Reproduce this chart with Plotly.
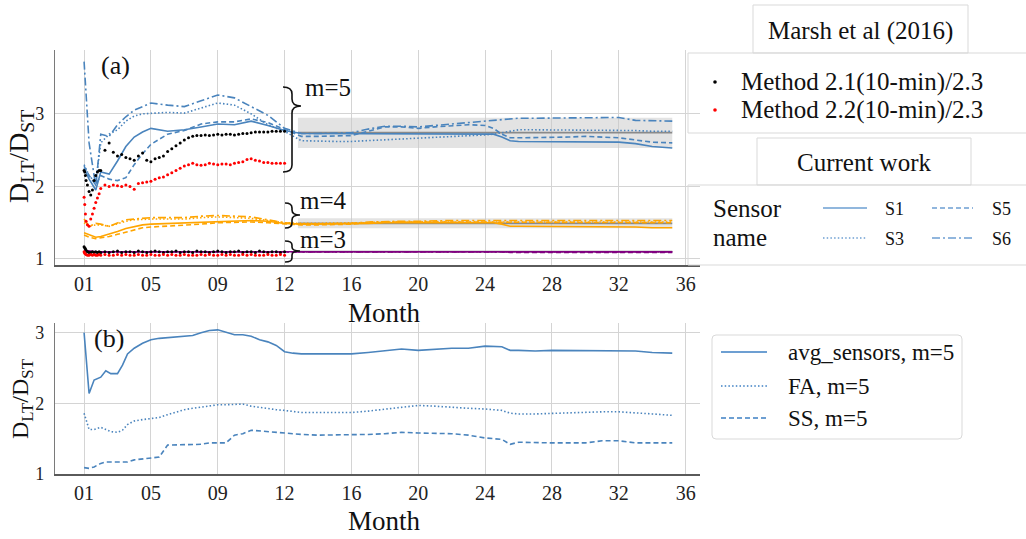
import plotly.graph_objects as go

W, H = 1026, 539
FONT = "Liberation Serif, Times New Roman, serif"

# ---------------- data ----------------
TICK_VALS = [0, 4, 8, 12, 16, 20, 24, 28, 32, 36]
TICK_TEXT = ["01", "05", "09", "12", "16", "20", "24", "28", "32", "36"]

LINE_MONTHS = [0, 0.3, 0.7, 1, 1.5, 2, 2.5, 3, 3.5, 4, 5, 6, 7, 8, 9, 10, 11, 12,
               13, 14, 15, 16, 17, 18, 19, 20, 21, 22, 23, 24, 24.5, 25, 25.5, 26,
               27, 28, 29, 30, 31, 32, 33, 34, 35.2]

# m = 5 (blue)
S1_M5 = [2.25, 2.10, 1.95, 2.20, 2.17, 2.35, 2.55, 2.68, 2.75, 2.80, 2.76, 2.78, 2.82, 2.86, 2.85,
         2.90, 2.84, 2.77, 2.73, 2.73, 2.73, 2.73, 2.73, 2.73, 2.72, 2.72, 2.73, 2.73, 2.73, 2.72,
         2.72, 2.68, 2.63, 2.62, 2.62, 2.62, 2.62, 2.61, 2.61, 2.61, 2.59, 2.55, 2.53]
S3_M5 = [2.30, 2.15, 2.05, 2.60, 2.72, 2.78, 2.90, 2.97, 3.00, 3.01, 3.02, 3.01, 3.08, 3.15, 3.12,
         3.00, 2.85, 2.76, 2.63, 2.62, 2.62, 2.62, 2.63, 2.64, 2.66, 2.67, 2.68, 2.69, 2.70, 2.71,
         2.72, 2.74, 2.77, 2.78, 2.78, 2.78, 2.78, 2.78, 2.78, 2.78, 2.77, 2.76, 2.76]
S5_M5 = [2.28, 2.15, 2.02, 2.15, 2.10, 2.08, 2.12, 2.30, 2.45, 2.58, 2.72, 2.77, 2.86, 2.89, 2.89,
         2.93, 2.88, 2.78, 2.69, 2.69, 2.69, 2.70, 2.76, 2.82, 2.82, 2.80, 2.82, 2.84, 2.85, 2.84,
         2.80, 2.72, 2.67, 2.67, 2.67, 2.68, 2.68, 2.69, 2.68, 2.67, 2.64, 2.61, 2.60]
S6_M5 = [3.72, 2.60, 2.00, 2.72, 2.69, 2.85, 2.96, 3.05, 3.10, 3.15, 3.12, 3.10, 3.18, 3.26, 3.22,
         3.10, 2.98, 2.80, 2.73, 2.73, 2.73, 2.74, 2.79, 2.83, 2.83, 2.82, 2.84, 2.86, 2.87, 2.89,
         2.90, 2.92, 2.93, 2.94, 2.94, 2.94, 2.94, 2.94, 2.95, 2.95, 2.91, 2.91, 2.90]

# m = 4 (orange)
S1_M4 = [1.36, 1.33, 1.30, 1.31, 1.34, 1.38, 1.42, 1.45, 1.47, 1.48, 1.49, 1.50, 1.51, 1.52, 1.53,
         1.53, 1.52, 1.49, 1.48, 1.48, 1.48, 1.48, 1.49, 1.50, 1.50, 1.50, 1.50, 1.50, 1.50, 1.50,
         1.50, 1.48, 1.45, 1.45, 1.45, 1.45, 1.45, 1.45, 1.45, 1.45, 1.44, 1.43, 1.43]
S3_M4 = [1.50, 1.45, 1.47, 1.47, 1.45, 1.49, 1.52, 1.54, 1.55, 1.55, 1.55, 1.55, 1.57, 1.58, 1.57,
         1.56, 1.53, 1.50, 1.49, 1.49, 1.49, 1.49, 1.50, 1.51, 1.51, 1.51, 1.51, 1.52, 1.52, 1.52,
         1.52, 1.52, 1.52, 1.52, 1.52, 1.52, 1.52, 1.52, 1.52, 1.52, 1.52, 1.51, 1.51]
S5_M4 = [1.33, 1.30, 1.28, 1.29, 1.31, 1.34, 1.37, 1.41, 1.43, 1.44, 1.45, 1.46, 1.48, 1.50, 1.51,
         1.51, 1.50, 1.48, 1.47, 1.47, 1.47, 1.48, 1.50, 1.51, 1.51, 1.51, 1.51, 1.51, 1.51, 1.51,
         1.51, 1.51, 1.51, 1.51, 1.51, 1.51, 1.51, 1.51, 1.51, 1.51, 1.51, 1.50, 1.50]
S6_M4 = [1.55, 1.45, 1.49, 1.48, 1.45, 1.50, 1.54, 1.55, 1.56, 1.57, 1.57, 1.57, 1.59, 1.60, 1.59,
         1.58, 1.54, 1.50, 1.48, 1.48, 1.48, 1.49, 1.51, 1.52, 1.52, 1.52, 1.53, 1.53, 1.53, 1.53,
         1.53, 1.53, 1.53, 1.53, 1.53, 1.53, 1.53, 1.53, 1.53, 1.53, 1.53, 1.53, 1.53]

# m = 3 (purple)
S1_M3 = [1.12, 1.11, 1.10, 1.10, 1.10, 1.10, 1.10, 1.10, 1.10, 1.10, 1.10, 1.10, 1.10, 1.10, 1.10,
         1.10, 1.10, 1.10, 1.10, 1.10, 1.10, 1.10, 1.11, 1.11, 1.11, 1.11, 1.11, 1.11, 1.11, 1.11,
         1.10, 1.10, 1.10, 1.10, 1.10, 1.10, 1.10, 1.10, 1.10, 1.10, 1.10, 1.10, 1.10]
S3_M3 = [1.11, 1.10, 1.10, 1.10, 1.10, 1.10, 1.10, 1.10, 1.10, 1.10, 1.10, 1.10, 1.10, 1.10, 1.10,
         1.10, 1.10, 1.10, 1.10, 1.10, 1.10, 1.10, 1.10, 1.11, 1.11, 1.11, 1.11, 1.11, 1.11, 1.11,
         1.11, 1.10, 1.10, 1.10, 1.10, 1.10, 1.10, 1.10, 1.10, 1.10, 1.10, 1.10, 1.10]
S5_M3 = [1.11, 1.10, 1.09, 1.09, 1.10, 1.10, 1.10, 1.10, 1.10, 1.10, 1.10, 1.10, 1.10, 1.10, 1.10,
         1.10, 1.10, 1.10, 1.10, 1.10, 1.10, 1.10, 1.10, 1.10, 1.11, 1.11, 1.11, 1.11, 1.11, 1.11,
         1.10, 1.10, 1.09, 1.09, 1.09, 1.09, 1.09, 1.09, 1.09, 1.09, 1.09, 1.09, 1.09]
S6_M3 = [1.12, 1.10, 1.10, 1.10, 1.10, 1.10, 1.10, 1.10, 1.10, 1.10, 1.10, 1.10, 1.10, 1.10, 1.10,
         1.10, 1.10, 1.10, 1.10, 1.10, 1.10, 1.11, 1.11, 1.11, 1.11, 1.11, 1.11, 1.11, 1.11, 1.11,
         1.10, 1.10, 1.10, 1.10, 1.10, 1.10, 1.10, 1.10, 1.10, 1.10, 1.10, 1.10, 1.10]

# Marsh et al (2016) dots
DOT_MONTHS = [0, 0.04, 0.08, 0.12, 0.2, 0.3, 0.4, 0.5, 0.6, 0.7, 0.8, 0.9, 1.0,
              1.25, 1.5, 1.75, 2.0, 2.25, 2.5, 2.75, 3.0, 3.25, 3.5, 3.75, 4.0, 4.25,
              4.5, 4.75, 5.0, 5.25, 5.5, 5.75, 6.0, 6.25, 6.5, 6.75, 7.0, 7.25, 7.5,
              7.75, 8.0, 8.25, 8.5, 8.75, 9.0, 9.25, 9.5, 9.75, 10.0, 10.25, 10.5,
              10.75, 11.0, 11.25, 11.5, 11.75, 12.0]
M21_M5 = [2.22, 2.20, 2.15, 2.08, 2.02, 1.93, 1.88, 1.95, 2.08, 2.15, 2.20, 2.22, 2.22,
          2.50, 2.60, 2.47, 2.42, 2.44, 2.40, 2.38, 2.36, 2.42, 2.46, 2.36, 2.34, 2.38,
          2.40, 2.42, 2.48, 2.52, 2.56, 2.60, 2.64, 2.67, 2.69, 2.70, 2.70, 2.71, 2.70,
          2.71, 2.72, 2.71, 2.72, 2.72, 2.71, 2.72, 2.73, 2.73, 2.74, 2.75, 2.75,
          2.75, 2.75, 2.76, 2.76, 2.76, 2.76]
M22_M5 = [1.85, 1.75, 1.62, 1.52, 1.47, 1.45, 1.55, 1.62, 1.70, 1.78, 1.84, 1.90, 1.97,
          2.02, 2.00, 2.02, 2.01, 2.00, 2.02, 2.00, 1.96, 2.04, 2.05, 2.06, 2.07, 2.10,
          2.12, 2.13, 2.16, 2.19, 2.22, 2.25, 2.28, 2.30, 2.32, 2.30, 2.29, 2.30, 2.32,
          2.31, 2.30, 2.31, 2.31, 2.30, 2.32, 2.33, 2.34, 2.37, 2.38, 2.36, 2.35,
          2.33, 2.33, 2.32, 2.32, 2.32, 2.32]
M21_M3 = [1.17, 1.15, 1.14, 1.12, 1.10, 1.09, 1.09, 1.10, 1.09, 1.10, 1.09, 1.10, 1.09,
          1.10, 1.09, 1.10, 1.11, 1.09, 1.10, 1.10, 1.09, 1.11, 1.10, 1.09, 1.10, 1.11,
          1.10, 1.09, 1.10, 1.10, 1.11, 1.09, 1.10, 1.10, 1.09, 1.11, 1.10, 1.10, 1.09,
          1.10, 1.11, 1.10, 1.09, 1.10, 1.10, 1.11, 1.09, 1.10, 1.10, 1.09, 1.11,
          1.10, 1.09, 1.10, 1.10, 1.09, 1.10]
M22_M3 = [1.10, 1.08, 1.07, 1.06, 1.05, 1.05, 1.06, 1.05, 1.06, 1.05, 1.05, 1.06, 1.05,
          1.06, 1.05, 1.05, 1.06, 1.05, 1.06, 1.05, 1.05, 1.06, 1.05, 1.05, 1.06, 1.05,
          1.05, 1.06, 1.05, 1.06, 1.05, 1.05, 1.06, 1.05, 1.05, 1.05, 1.06, 1.05, 1.06,
          1.05, 1.05, 1.06, 1.05, 1.06, 1.05, 1.05, 1.06, 1.05, 1.06, 1.05, 1.05,
          1.05, 1.06, 1.05, 1.05, 1.06, 1.05]

# shaded bands (min / max / mean) for months 13-35
BAND_X = [12.8, 35.2]
BAND_M5 = [2.53, 2.945, 2.74]
BAND_M4 = [1.425, 1.56, 1.49]
BAND_M3 = [1.093, 1.113, 1.10]

# panel (b)
B_MONTHS = [0, 0.3, 0.6, 1, 1.3, 1.6, 2, 2.3, 2.6, 3, 3.5, 4, 4.5, 5, 5.5, 6, 6.5, 7,
            7.5, 8, 8.5, 9, 9.5, 10, 10.5, 11, 11.5, 12, 12.5, 13, 14, 15, 16, 17, 18,
            19, 20, 21, 22, 23, 24, 25, 25.5, 26, 27, 28, 29, 30, 31, 32, 33, 34, 35.2]
AVG_SENSORS = [3.00, 2.14, 2.33, 2.37, 2.46, 2.42, 2.42, 2.54, 2.70, 2.78, 2.85, 2.90, 2.92,
               2.93, 2.93, 2.95, 2.96, 3.00, 3.03, 3.04, 3.00, 2.97, 2.97, 2.95, 2.90, 2.87,
               2.82, 2.73, 2.71, 2.70, 2.70, 2.70, 2.70, 2.72, 2.75, 2.77, 2.75, 2.77, 2.78,
               2.78, 2.81, 2.80, 2.75, 2.75, 2.74, 2.75, 2.75, 2.75, 2.75, 2.74, 2.74, 2.72, 2.71]
FA_M5 = [1.86, 1.63, 1.63, 1.66, 1.63, 1.60, 1.59, 1.62, 1.70, 1.75, 1.77, 1.79, 1.80,
         1.84, 1.88, 1.91, 1.93, 1.95, 1.96, 1.98, 1.98, 1.99, 1.99, 1.96, 1.94, 1.92,
         1.91, 1.90, 1.88, 1.87, 1.87, 1.87, 1.87, 1.89, 1.92, 1.94, 1.97, 1.96, 1.94,
         1.93, 1.92, 1.90, 1.86, 1.85, 1.85, 1.86, 1.87, 1.87, 1.88, 1.88, 1.87, 1.85, 1.83]
SS_M5 = [1.09, 1.08, 1.10, 1.15, 1.17, 1.17, 1.17, 1.17, 1.17, 1.20, 1.21, 1.22, 1.24,
         1.41, 1.41, 1.41, 1.42, 1.42, 1.44, 1.44, 1.44, 1.55, 1.57, 1.62, 1.61, 1.60,
         1.58, 1.57, 1.56, 1.56, 1.55, 1.55, 1.55, 1.56, 1.57, 1.59, 1.58, 1.58, 1.57,
         1.55, 1.51, 1.49, 1.42, 1.45, 1.44, 1.44, 1.44, 1.44, 1.47, 1.47, 1.44, 1.44, 1.44]

# ---------------- styles ----------------
BLUE = "#4a84bd"
ORANGE = "#ffa500"
PURPLE = "#800080"
DASHES = {"S1": "solid", "S3": "1.5px,2.2px", "S5": "5px,3px", "S6": "8px,3px,2px,3px"}


def px(x):
    return x / W


def py(y):
    return 1 - y / H


fig = go.Figure()

# bands
for band in (BAND_M5, BAND_M4, BAND_M3):
    lo, hi, mean = band
    fig.add_trace(go.Scatter(x=BAND_X + BAND_X[::-1], y=[hi, hi, lo, lo], fill="toself",
                             fillcolor="rgba(200,200,200,0.5)", line=dict(width=0),
                             mode="lines", showlegend=False, hoverinfo="skip",
                             xaxis="x", yaxis="y"))
    fig.add_trace(go.Scatter(x=BAND_X, y=[mean, mean], mode="lines",
                             line=dict(color="#8a8a8a", width=1.8), showlegend=False,
                             hoverinfo="skip", xaxis="x", yaxis="y"))

series = [
    ("S1", S1_M5, BLUE), ("S3", S3_M5, BLUE), ("S5", S5_M5, BLUE), ("S6", S6_M5, BLUE),
    ("S1", S1_M4, ORANGE), ("S3", S3_M4, ORANGE), ("S5", S5_M4, ORANGE), ("S6", S6_M4, ORANGE),
    ("S1", S1_M3, PURPLE), ("S3", S3_M3, PURPLE), ("S5", S5_M3, PURPLE), ("S6", S6_M3, PURPLE),
]
for name, vals, col in series:
    fig.add_trace(go.Scatter(x=LINE_MONTHS, y=vals, mode="lines",
                             line=dict(color=col, width=1.6, dash=DASHES[name]),
                             showlegend=False, hoverinfo="skip", xaxis="x", yaxis="y"))

for vals, col in ((M21_M5, "black"), (M22_M5, "red"), (M21_M3, "black"), (M22_M3, "red")):
    fig.add_trace(go.Scatter(x=DOT_MONTHS, y=vals, mode="markers",
                             marker=dict(color=col, size=3, line=dict(width=0)),
                             showlegend=False, hoverinfo="skip", xaxis="x", yaxis="y"))

for vals, dash in ((AVG_SENSORS, "solid"), (FA_M5, "1.5px,2.2px"), (SS_M5, "5px,3px")):
    fig.add_trace(go.Scatter(x=B_MONTHS, y=vals, mode="lines",
                             line=dict(color=BLUE, width=1.6, dash=dash),
                             showlegend=False, hoverinfo="skip", xaxis="x2", yaxis="y2"))

# ---------------- axes ----------------
common_x = dict(tickvals=TICK_VALS, ticktext=TICK_TEXT, range=[-1.74, 36.86],
                domain=[px(55), px(700)], showgrid=True, gridcolor="#d4d4d4", gridwidth=1,
                showline=True, linecolor="#5a5a5a", linewidth=1.5, zeroline=False,
                ticks="", automargin=False,
                tickfont=dict(family=FONT, size=20, color="#222"))
common_y = dict(tickvals=[1, 2, 3], showgrid=True, gridcolor="#d4d4d4", gridwidth=1,
                showline=True, linecolor="#7a7a7a", linewidth=1.2, zeroline=False,
                ticks="outside", ticklen=6, tickcolor="rgba(0,0,0,0)", automargin=False,
                tickfont=dict(family=FONT, size=18, color="#222"))

fig.update_layout(
    width=W, height=H, autosize=False,
    margin=dict(l=0, r=0, t=0, b=0, pad=0),
    paper_bgcolor="white", plot_bgcolor="white",
    font=dict(family=FONT, color="#111"),
    showlegend=False,
    xaxis=dict(common_x, anchor="y"),
    yaxis=dict(common_y, anchor="x", domain=[py(265), py(50)], range=[0.917, 3.88]),
    xaxis2=dict(common_x, anchor="y2"),
    yaxis2=dict(common_y, anchor="x2", domain=[py(474), py(323)], range=[1.0, 3.137]),
)

# ---------------- annotations ----------------
ann = []


def text(x, y, s, size, anchor="left", angle=0):
    ann.append(dict(x=px(x), y=py(y), xref="paper", yref="paper", text=s, showarrow=False,
                    xanchor=anchor, yanchor="middle", textangle=angle,
                    font=dict(family=FONT, size=size, color="#111")))


text(115, 65, "(a)", 26, "center")
text(109, 338, "(b)", 26, "center")
text(303, 88, "m=5", 25)
text(298, 200, "m=4", 25)
text(298, 239, "m=3", 25)
text(20, 157, "D<sub>LT</sub>/D<sub>ST</sub>", 28, "center", -90)
text(22, 399, "D<sub>LT</sub>/D<sub>ST</sub>", 24, "center", -90)
text(384, 313, "Month", 27, "center")
text(384, 521, "Month", 27, "center")

# legends (panel a)
text(860, 31, "Marsh et al (2016)", 25, "center")
text(739, 82, "Method 2.1(10-min)/2.3", 25)
text(739, 110, "Method 2.2(10-min)/2.3", 25)
text(864, 162, "Current work", 25, "center")
text(711, 208, "Sensor", 25)
text(711, 238, "name", 25)
text(883, 209, "S1", 18)
text(883, 239, "S3", 18)
text(990, 209, "S5", 18)
text(990, 239, "S6", 18)
# legend (panel b)
text(786, 352, "avg_sensors, m=5", 23)
text(786, 386, "FA, m=5", 23)
text(786, 418, "SS, m=5", 23)

shapes = []
BOX = "#d9d9d9"


def rect(x0, y0, x1, y1):
    shapes.append(dict(type="rect", xref="paper", yref="paper", x0=px(x0), x1=px(x1),
                       y0=py(y1), y1=py(y0), line=dict(color=BOX, width=1),
                       fillcolor="rgba(255,255,255,0)", layer="above"))


def seg(x0, x1, y, dash, col, width=1.5):
    shapes.append(dict(type="line", xref="paper", yref="paper", x0=px(x0), x1=px(x1),
                       y0=py(y), y1=py(y), line=dict(color=col, width=width, dash=dash)))


def pixpath(path, color, width=1.5):
    shapes.append(dict(type="path", xref="paper", yref="paper", xsizemode="pixel",
                       ysizemode="pixel", xanchor=0, yanchor=1, path=path,
                       line=dict(color=color, width=width), layer="above"))


def brace(xl, xm, xt, ytop, ytip, ybot, r):
    p = (f"M {xl},{-ytop} Q {xm},{-ytop} {xm},{-(ytop + r)} L {xm},{-(ytip - r)} "
         f"Q {xm},{-ytip} {xt},{-ytip} Q {xm},{-ytip} {xm},{-(ytip + r)} "
         f"L {xm},{-(ybot - r)} Q {xm},{-ybot} {xl},{-ybot}")
    pixpath(p, "#111", 1.6)


brace(283, 292, 301, 87, 106, 172, 7)
brace(285, 292, 300, 203, 215, 228, 5)
brace(285, 292, 300, 241, 251, 262, 4)

rect(753, 5, 968, 53)
rect(688, 53, 1030, 133)
rect(757, 138, 971, 185)
rect(688, 185, 1030, 265)

for cx, cy, col in ((715, 82, "black"), (715, 110, "red")):
    shapes.append(dict(type="circle", xref="paper", yref="paper", xsizemode="pixel",
                       ysizemode="pixel", xanchor=px(cx), yanchor=py(cy),
                       x0=-1.8, x1=1.8, y0=-1.8, y1=1.8, fillcolor=col,
                       line=dict(width=0)))

LEG_BLUE = "#6d9fd2"
seg(823, 867, 208, "solid", LEG_BLUE)
seg(823, 867, 238, "1.5px,2.2px", LEG_BLUE)
seg(932, 973, 208, "5px,3px", LEG_BLUE)
seg(932, 973, 238, "8px,3px,2px,3px", LEG_BLUE)

# rounded legend box for panel (b)
x0, y0, x1, y1, r = 712, 335, 962, 439, 4
pixpath(f"M {x0 + r},{-y0} L {x1 - r},{-y0} Q {x1},{-y0} {x1},{-(y0 + r)} "
        f"L {x1},{-(y1 - r)} Q {x1},{-y1} {x1 - r},{-y1} L {x0 + r},{-y1} "
        f"Q {x0},{-y1} {x0},{-(y1 - r)} L {x0},{-(y0 + r)} Q {x0},{-y0} {x0 + r},{-y0} Z",
        BOX, 1)
seg(721, 767, 352, "solid", LEG_BLUE, 2)
seg(721, 767, 386, "1.5px,2.2px", LEG_BLUE, 2)
seg(721, 767, 418, "5px,3px", LEG_BLUE, 2)

fig.update_layout(annotations=ann, shapes=shapes)
fig.write_html("out.html", config={"displayModeBar": False},
               post_script="document.body.style.margin='0px';document.body.style.padding='0px';")
